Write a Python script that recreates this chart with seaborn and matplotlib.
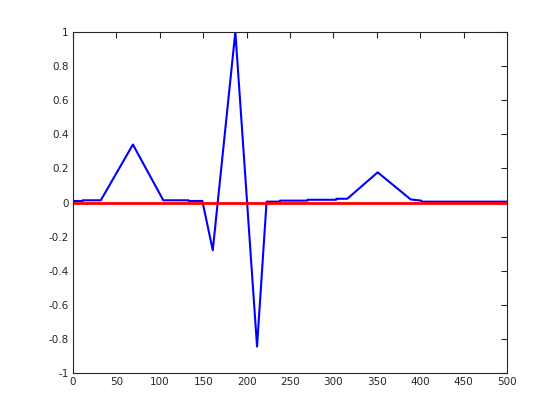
import matplotlib
matplotlib.use("Agg")
import matplotlib.pyplot as plt
import numpy as np
import seaborn as sns

# signal vertices
sig_x = [0, 11, 11.5, 32, 69, 104, 133, 133.5, 149, 161, 187, 212, 223,
         238, 238.5, 270, 270.5, 303, 303.5, 316, 351, 389, 401, 402, 500]
sig_y = [0.009, 0.009, 0.013, 0.013, 0.34, 0.013, 0.013, 0.009, 0.009, -0.28,
         1.0, -0.845, 0.005, 0.005, 0.011, 0.011, 0.016, 0.016, 0.022, 0.022,
         0.177, 0.018, 0.011, 0.005, 0.005]

# zero reference line
ref_x = [0, 500]
ref_y = [0, 0]

x_ticks = np.arange(0, 501, 50)
y_ticks = [-1, -0.8, -0.6, -0.4, -0.2, 0, 0.2, 0.4, 0.6, 0.8, 1]
y_labels = ["-1", "-0.8", "-0.6", "-0.4", "-0.2", "0", "0.2", "0.4", "0.6", "0.8", "1"]

sns.set_style("white")
plt.rcParams["font.family"] = ["DejaVu Sans"]

fig = plt.figure(figsize=(5.6, 4.2), dpi=100)
ax = fig.add_axes([0.1304, 0.1119, 0.775, 0.8119])

sns.lineplot(x=sig_x, y=sig_y, ax=ax, color="#0000ff", linewidth=1.5,
             estimator=None, sort=False)
sns.lineplot(x=ref_x, y=ref_y, ax=ax, color="#ff0000", linewidth=2,
             estimator=None, sort=False)

ax.set_xlim(0, 500)
ax.set_ylim(-1, 1)
ax.set_xticks(x_ticks)
ax.set_xticklabels([str(v) for v in x_ticks])
ax.set_yticks(y_ticks)
ax.set_yticklabels(y_labels)
ax.tick_params(direction="in", length=4, width=0.8, labelsize=7.5,
               colors="#262626", top=True, right=True, pad=3)
for side in ax.spines.values():
    side.set_visible(True)
    side.set_color("#262626")
    side.set_linewidth(0.8)

fig.savefig("out.png", dpi=100)
plt.close(fig)
